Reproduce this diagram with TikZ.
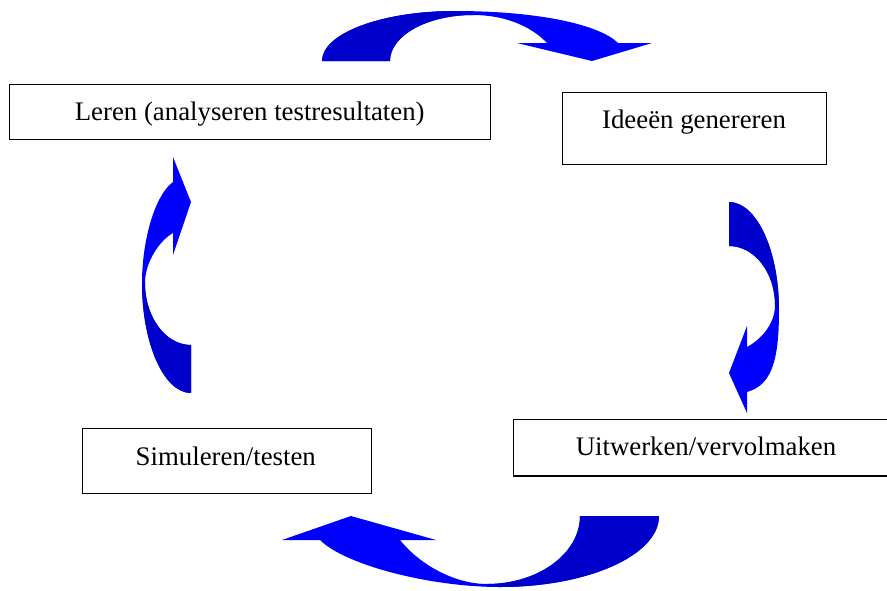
\documentclass[tikz,border=0pt]{standalone}
\usepackage{fontspec}
\setmainfont{Liberation Serif}
\definecolor{arrdark}{RGB}{0,0,204}
\definecolor{arrbright}{RGB}{0,0,255}
\begin{document}
\begin{tikzpicture}[x=1pt,y=-1pt,
  stagebox/.style={draw=black,line width=1.5pt,rectangle,inner sep=0pt,fill=white},
  stagetext/.style={anchor=base,inner sep=0pt,font=\fontsize{26.8}{30}\selectfont},
  brightpart/.style={fill=arrbright,draw=none},
  darkpart/.style={fill=arrdark,draw=none}]
\clip (0,0) rectangle (887,590);
\fill[white] (0,0) rectangle (887,590);

% boxes
\node[stagebox,minimum width=481.4pt,minimum height=55pt] (leren) at (250,111.8) {};
\node[stagebox,minimum width=264.4pt,minimum height=72pt] (ideeen) at (694.5,128.3) {};
\node[stagebox,minimum width=383.4pt,minimum height=56.7pt] (uitwerken) at (705,447.7) {};
\node[stagebox,minimum width=289.4pt,minimum height=65pt] (simuleren) at (227,460.8) {};

\node[stagetext] (lerentxt) at (249.7,120) {Leren (analyseren testresultaten)};
\node[stagetext] (ideeentxt) at (694,128.3) {Ideeën genereren};
\node[stagetext] (uitwerkentxt) at (706,455) {Uitwerken/vervolmaken};
\node[stagetext] (simulerentxt) at (225.8,465) {Simuleren/testen};

% top arrow
\fill[brightpart] (322,61) .. controls (322,33.4) and (381.6,11) .. (455,11)
  .. controls (540,11) and (600,25) .. (618,43)
  -- (652,43) -- (592,61) -- (517,43) -- (547,43)
  .. controls (535,30) and (510,15) .. (473,15)
  .. controls (427.2,15) and (390,35.6) .. (390,61) -- cycle;
\fill[darkpart] (322,61) .. controls (322,33.4) and (381.6,11) .. (455,11)
  -- (473,15)
  .. controls (427.2,15) and (390,35.6) .. (390,61) -- cycle;

% right arrow
\fill[brightpart] (729,202) .. controls (756.6,202) and (779,250.4) .. (779,310)
  .. controls (779,360) and (772,385) .. (747,392)
  -- (747,413) -- (729,373) -- (747,326) -- (747,347)
  .. controls (760,340) and (775,325) .. (775,305)
  .. controls (775,272.4) and (754.4,246) .. (729,246) -- cycle;
\fill[darkpart] (729,202) .. controls (756.6,202) and (779,250.4) .. (779,310)
  -- (775,305)
  .. controls (775,272.4) and (754.4,246) .. (729,246) -- cycle;

% bottom arrow
\fill[brightpart] (659,516) .. controls (659,555.2) and (587.8,587) .. (500,587)
  .. controls (430,587) and (345,565) .. (320,540)
  -- (282,540) -- (351,516) -- (436,540) -- (400,540)
  .. controls (420,565) and (455,584) .. (487,584)
  .. controls (538.3,584) and (580,553.5) .. (580,516) -- cycle;
\fill[darkpart] (659,516) .. controls (659,555.2) and (587.8,587) .. (500,587)
  -- (487,584)
  .. controls (538.3,584) and (580,553.5) .. (580,516) -- cycle;

% left arrow
\fill[brightpart] (191,393) .. controls (164,393) and (142,343.7) .. (142,283)
  .. controls (142,240) and (155,195) .. (173,182)
  -- (173,157) -- (191,202) -- (173,255) -- (173,233)
  .. controls (160,240) and (145,262) .. (145,283)
  .. controls (145,317.2) and (165.6,345) .. (191,345) -- cycle;
\fill[darkpart] (191,393) .. controls (164,393) and (142,343.7) .. (142,283)
  -- (145,283)
  .. controls (145,317.2) and (165.6,345) .. (191,345) -- cycle;
\end{tikzpicture}
\end{document}
